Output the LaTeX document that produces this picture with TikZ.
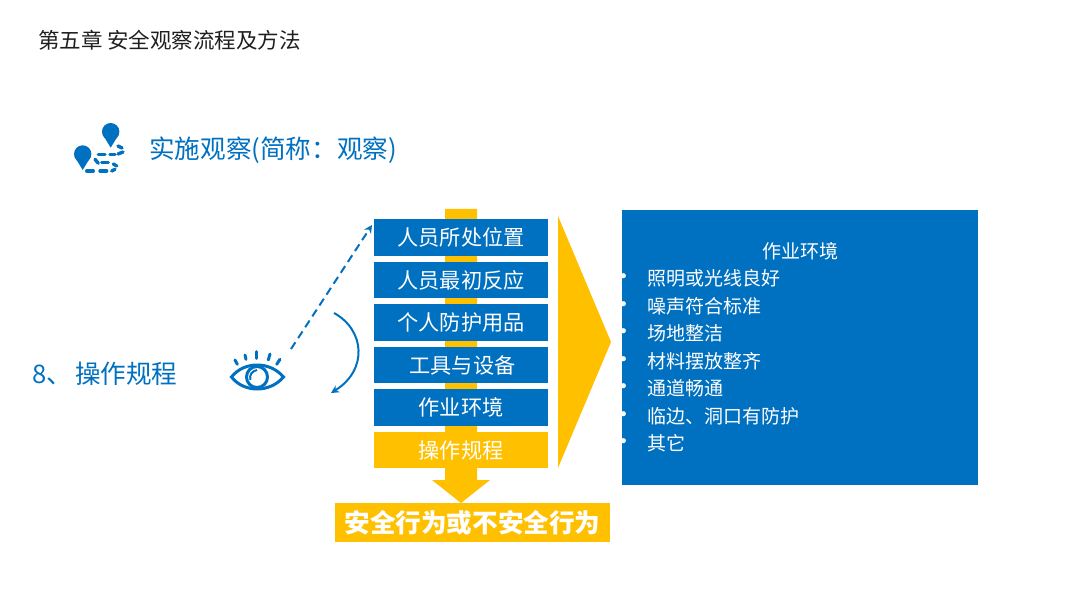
\documentclass[tikz,border=0pt]{standalone}
\usepackage{fontspec}
\setmainfont{Noto Sans CJK SC}
\newfontfamily\bulletfont{Liberation Sans}
\usepackage{xcolor}
\usetikzlibrary{arrows.meta,positioning}
\definecolor{accent}{HTML}{0070C0}
\definecolor{gold}{HTML}{FFC000}
\definecolor{ink}{HTML}{1F1F1F}

\begin{document}
\begin{tikzpicture}[
    x=1pt, y=-1pt,
    node distance=5.9pt,
    box/.style={fill=#1, text=white, inner sep=0pt, minimum width=174pt,
                minimum height=36.2pt, font=\fontsize{21.2}{24}\selectfont},
    box/.default=accent,
    heading/.style={anchor=west, inner sep=0pt, text=accent, font=\fontsize{25.6}{30}\selectfont},
    arr/.style={-{Stealth[length=8pt,width=8pt]}, line width=2pt, accent},
    pin/.pic={
      \fill[accent] (0,-16) circle[radius=8.7];
      \fill[accent] (-8.2,-13.5) -- (0,0) -- (8.2,-13.5) -- cycle;
    },
  ]
  \useasboundingbox (0,0) rectangle (1080,607);

  \node[anchor=west, inner sep=0pt, text=ink, font=\fontsize{21.5}{26}\selectfont] (title) at (38,40) {第五章 安全观察流程及方法};

  % route icon
  \pic at (110.7,147.7) {pin};
  \pic at (82.7,170) {pin};
  \foreach \xa/\ya/\xb/\yb in {118/146/122/148, 123/152/118/154, 115/154.3/110/154.3, 105/154.3/98.3/154.3,
      95/159.3/98.3/163.3, 101.7/162.7/108.3/162.7, 113.3/164/116.7/166, 115/169.3/111.7/171,
      106.7/171/100/171, 93.3/171/86.7/171}
    \draw[accent, line width=3.4pt, line cap=round] (\xa,\ya) -- (\xb,\yb);
  \node[heading] (sub) at (149,150) {实施观察(简称：观察)};
  \node[heading] (rule) at (32,374) {8、\kern3pt 操作规程};

  % trunk behind the boxes
  \fill[gold] (445,209) -- (477,209) -- (477,480) -- (490,480) -- (461,503)
      -- (432,480) -- (445,480) -- cycle;

  \node[box] (ppl) at (461,237.5) {人员所处位置};
  \node[box, below=of ppl] (react) {人员最初反应};
  \node[box, below=of react] (ppe) {个人防护用品};
  \node[box, below=of ppe] (tool) {\kern3pt 工具与设备};
  \node[box, below=of tool] (env) {作业环境};
  \node[box=gold, below=of env] (proc) {操作规程};

  \node[fill=gold, text=white, inner sep=0pt, minimum width=275pt, minimum height=39pt,
        font=\fontsize{25.6}{30}\selectfont\bfseries] (result) at (472.5,522.5) {安全行为或不安全行为};

  \fill[gold] (558,216) -- (611,342) -- (558,468) -- cycle;

  \node[fill=accent, inner sep=0pt, minimum width=356pt, minimum height=275pt] (envbox) at (800,347.5) {};
  \node[text=white, inner sep=0pt, font=\fontsize{19}{22}\selectfont] (envtitle) at (800,251.5) {作业环境};
  \node[anchor=north west, inner sep=0pt, text=white, align=left, font=\fontsize{19}{27.5}\selectfont] (envlist) at (647,269.5) {%
    照明或光线良好\\
    噪声符合标准\\
    场地整洁\\
    材料摆放整齐\\
    通道畅通\\
    临边、洞口有防护\\
    其它};
  \node[inner sep=0pt, text=white, align=left, font=\fontsize{19}{27.5}\selectfont\bulletfont, left=20pt of envlist] (envdots) {•\\•\\•\\•\\•\\•\\•};

  % eye
  \coordinate (eye) at (257,377);
  \draw[accent, line width=3pt] (231.5,377) .. controls (244,361) and (270,361) .. (283.5,377)
      .. controls (270,393) and (244,393) .. (231.5,377) -- cycle;
  \draw[accent, line width=3pt] (eye) circle[radius=10.5];
  \draw[accent, line width=2pt] (250.5,380) .. controls (249,375) and (252,371) .. (257,370);
  \foreach \xa/\ya/\xb/\yb in {235/360/237.3/364.3, 245/355/246/359.3, 256.7/351.7/256.7/358.3,
      270/354/268.3/360, 280/359.3/276.7/364.3}
    \draw[accent, line width=3pt, line cap=round] (\xa,\ya) -- (\xb,\yb);

  \coordinate (gaze) at (291,349);
  \coordinate (sight) at (372,225);
  \coordinate (scanA) at (334,313);
  \coordinate (scanB) at (331,393);
  \draw[arr, dash pattern=on 8pt off 5pt] (gaze) -- (sight);
  \draw[arr] (scanA) .. controls (365,330) and (368,370) .. (scanB);
\end{tikzpicture}
\end{document}
